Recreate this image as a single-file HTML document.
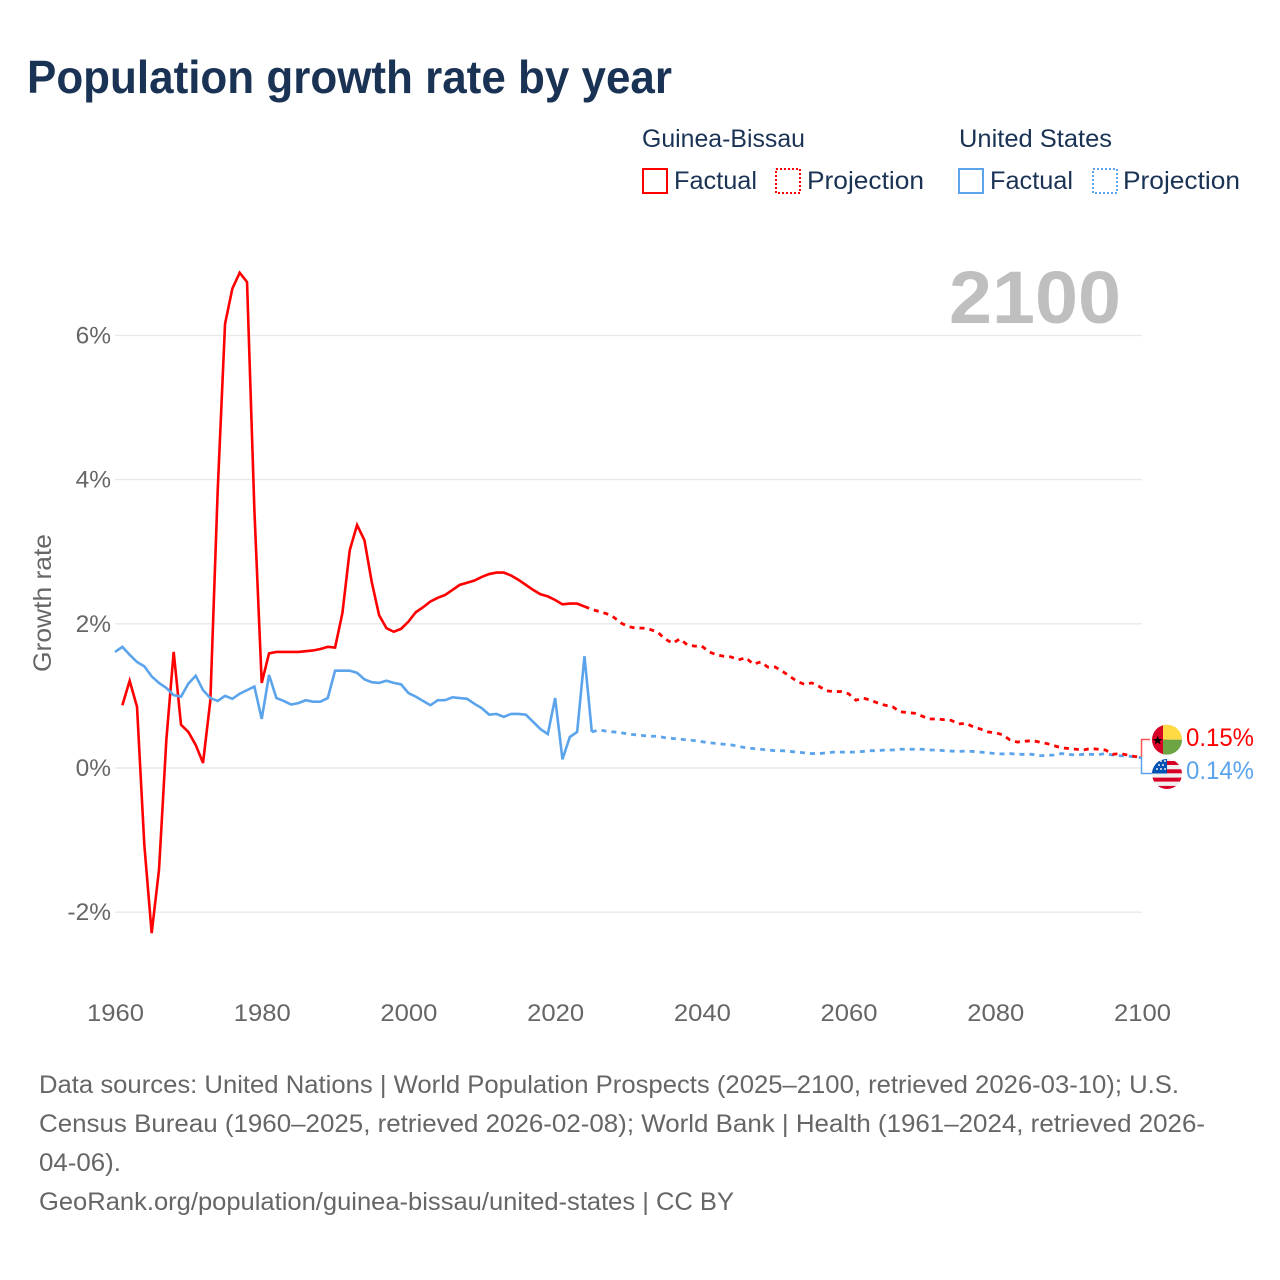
<!DOCTYPE html>
<html lang="en">
<head>
<meta charset="utf-8">
<title>Population growth rate by year</title>
<style>
html,body{margin:0;padding:0;background:#fff;}
svg{display:block;font-family:"Liberation Sans",sans-serif;}
.legend-text{font-size:25px;fill:#1a3355;}
.footer-text{font-size:25px;fill:#666;}
.tick{font-size:24.5px;fill:#666;}
</style>
</head>
<body>
<svg id="chart" xmlns="http://www.w3.org/2000/svg" width="1280" height="1280" viewBox="0 0 1280 1280">
  <rect x="0" y="0" width="1280" height="1280" fill="#fff"/>
  <text x="27" y="93" font-size="46" font-weight="700" fill="#1a3355" textLength="645" lengthAdjust="spacingAndGlyphs">Population growth rate by year</text>

  <g>
    <text class="legend-text" x="642" y="147" textLength="163" lengthAdjust="spacingAndGlyphs">Guinea-Bissau</text>
    <text class="legend-text" x="959" y="147" textLength="153" lengthAdjust="spacingAndGlyphs">United States</text>
    <rect x="643" y="169" width="24" height="24" fill="none" stroke="#ff0000" stroke-width="2"/>
    <text class="legend-text" x="674" y="189" textLength="83" lengthAdjust="spacingAndGlyphs">Factual</text>
    <rect x="776" y="169" width="24" height="24" fill="none" stroke="#ff0000" stroke-width="2" stroke-dasharray="2 2"/>
    <text class="legend-text" x="807" y="189" textLength="117" lengthAdjust="spacingAndGlyphs">Projection</text>
    <rect x="959" y="169" width="24" height="24" fill="none" stroke="#5ba4ec" stroke-width="2"/>
    <text class="legend-text" x="990" y="189" textLength="83" lengthAdjust="spacingAndGlyphs">Factual</text>
    <rect x="1093" y="169" width="24" height="24" fill="none" stroke="#5ba4ec" stroke-width="2" stroke-dasharray="2 2"/>
    <text class="legend-text" x="1123" y="189" textLength="117" lengthAdjust="spacingAndGlyphs">Projection</text>
  </g>

  <g id="grid"></g>
  <text x="1121" y="323" text-anchor="end" font-size="74" font-weight="700" fill="#bfbfbf" textLength="172" lengthAdjust="spacingAndGlyphs">2100</text>
  <g id="yticks"></g>
  <g id="xticks"></g>
  <text transform="translate(51,603) rotate(-90)" text-anchor="middle" font-size="25" fill="#666" textLength="138" lengthAdjust="spacingAndGlyphs">Growth rate</text>
  <g id="series"></g>

  <path d="M1141.5 757 V739.5 H1150" fill="none" stroke="#ff5555" stroke-width="1.5"/>
  <path d="M1141.5 757 V773.5 H1152" fill="none" stroke="#5ba4ec" stroke-width="1.5"/>

  <defs>
    <clipPath id="clipGW"><circle cx="1167" cy="739.7" r="15"/></clipPath>
    <clipPath id="clipUS"><circle cx="1167" cy="774" r="15"/></clipPath>
  </defs>
  <g clip-path="url(#clipGW)">
    <rect x="1152" y="724.7" width="15" height="30" fill="#d80027"/>
    <rect x="1163" y="724.7" width="19" height="15" fill="#ffda44"/>
    <rect x="1163" y="739.7" width="19" height="15" fill="#6da544"/>
    <polygon points="1157.7,735.7 1158.9,739 1162.4,739 1159.6,741.1 1160.6,744.4 1157.7,742.4 1154.8,744.4 1155.8,741.1 1153,739 1156.5,739" fill="#000"/>
  </g>
  <g clip-path="url(#clipUS)">
    <rect x="1152" y="759" width="30" height="30" fill="#f0f0f0"/>
    <rect x="1152" y="761" width="30" height="4" fill="#d80027"/>
    <rect x="1152" y="769.3" width="30" height="4" fill="#d80027"/>
    <rect x="1152" y="777.6" width="30" height="4" fill="#d80027"/>
    <rect x="1152" y="785.9" width="30" height="4" fill="#d80027"/>
    <rect x="1152" y="759" width="15" height="14.5" fill="#0052b4"/>
    <g fill="#f0f0f0">
      <circle cx="1157" cy="769" r="1"/><circle cx="1161" cy="769" r="1"/><circle cx="1165" cy="769" r="1"/>
      <circle cx="1159" cy="765" r="1"/><circle cx="1163" cy="765" r="1"/><circle cx="1161" cy="761" r="1"/><circle cx="1165" cy="761" r="1"/>
    </g>
  </g>
  <text x="1186" y="746" font-size="25" fill="#ff0000" textLength="68" lengthAdjust="spacingAndGlyphs">0.15%</text>
  <text x="1186" y="779" font-size="25" fill="#5ba4ec" textLength="68" lengthAdjust="spacingAndGlyphs">0.14%</text>

  <g>
    <text class="footer-text" x="39" y="1093" textLength="1140" lengthAdjust="spacingAndGlyphs">Data sources: United Nations | World Population Prospects (2025–2100, retrieved 2026-03-10); U.S.</text>
    <text class="footer-text" x="39" y="1132" textLength="1166" lengthAdjust="spacingAndGlyphs">Census Bureau (1960–2025, retrieved 2026-02-08); World Bank | Health (1961–2024, retrieved 2026-</text>
    <text class="footer-text" x="39" y="1171" textLength="82" lengthAdjust="spacingAndGlyphs">04-06).</text>
    <text class="footer-text" x="39" y="1210" textLength="695" lengthAdjust="spacingAndGlyphs">GeoRank.org/population/guinea-bissau/united-states | CC BY</text>
  </g>
</svg>
<script>
const yTickValues = [-2, 0, 2, 4, 6];
const xTickYears = [1960, 1980, 2000, 2020, 2040, 2060, 2080, 2100];

const gwFactualStart = 1961;
const gwFactual = [0.87,1.21,0.85,-1.07,-2.29,-1.41,0.39,1.61,0.60,0.50,0.32,0.07,0.94,3.85,6.16,6.65,6.87,6.74,3.58,1.18,1.59,1.61,1.61,1.61,1.61,1.62,1.63,1.65,1.68,1.67,2.15,3.02,3.37,3.16,2.58,2.12,1.94,1.89,1.93,2.03,2.16,2.23,2.31,2.36,2.40,2.47,2.54,2.57,2.60,2.65,2.69,2.71,2.71,2.67,2.61,2.54,2.47,2.41,2.38,2.33,2.27,2.28,2.28,2.24];

const gwProjectionStart = 2025;
const gwProjection = [2.20,2.17,2.14,2.09,2.01,1.96,1.94,1.94,1.92,1.88,1.79,1.73,1.79,1.71,1.69,1.69,1.61,1.57,1.55,1.54,1.50,1.53,1.44,1.47,1.40,1.40,1.34,1.27,1.20,1.16,1.18,1.13,1.07,1.06,1.06,1.03,0.94,0.97,0.94,0.90,0.87,0.85,0.78,0.77,0.76,0.72,0.68,0.68,0.67,0.66,0.61,0.62,0.57,0.54,0.50,0.49,0.46,0.39,0.36,0.37,0.38,0.36,0.34,0.31,0.28,0.27,0.26,0.25,0.27,0.26,0.25,0.19,0.20,0.18,0.16,0.15];

const usFactualStart = 1960;
const usFactual = [1.61,1.68,1.57,1.47,1.41,1.27,1.18,1.11,1.01,0.99,1.17,1.28,1.08,0.97,0.93,1.00,0.96,1.03,1.08,1.13,0.68,1.29,0.97,0.93,0.88,0.90,0.94,0.92,0.92,0.97,1.35,1.35,1.35,1.32,1.23,1.19,1.18,1.21,1.18,1.16,1.04,0.99,0.93,0.87,0.94,0.94,0.98,0.97,0.96,0.89,0.83,0.74,0.75,0.71,0.75,0.75,0.74,0.64,0.54,0.47,0.97,0.12,0.43,0.50,1.55,0.50];

const usProjectionStart = 2026;
const usProjection = [0.53,0.51,0.50,0.49,0.47,0.46,0.45,0.44,0.44,0.42,0.41,0.40,0.39,0.38,0.365,0.35,0.34,0.33,0.32,0.30,0.28,0.27,0.26,0.25,0.24,0.24,0.23,0.22,0.21,0.20,0.20,0.21,0.22,0.22,0.22,0.22,0.23,0.24,0.24,0.25,0.25,0.26,0.26,0.26,0.26,0.25,0.25,0.24,0.235,0.23,0.235,0.23,0.22,0.21,0.20,0.195,0.20,0.19,0.19,0.19,0.17,0.175,0.18,0.20,0.19,0.18,0.19,0.19,0.185,0.20,0.18,0.17,0.165,0.155,0.14];

const NS = 'http://www.w3.org/2000/svg';
function xScale(year) { return 115 + (year - 1960) * (1142 - 115) / 140; }
function yScale(value) { return 768 - value * 72.1; }

function points(startYear, values) {
  return values.map(function (v, i) { return xScale(startYear + i).toFixed(2) + ',' + yScale(v).toFixed(2); });
}

const gridGroup = document.getElementById('grid');
const yGroup = document.getElementById('yticks');
yTickValues.forEach(function (v) {
  const line = document.createElementNS(NS, 'line');
  
  
  line.setAttribute('x1', xScale(1960));
  line.setAttribute('x2', xScale(2100));
  line.setAttribute('y1', yScale(v));
  line.setAttribute('y2', yScale(v));
  line.setAttribute('stroke', '#e9e9e9');
  line.setAttribute('stroke-width', '1.4');
  gridGroup.appendChild(line);
  const label = document.createElementNS(NS, 'text');
  
  
  label.setAttribute('class', 'tick');
  label.setAttribute('x', 111);
  label.setAttribute('y', yScale(v) + 8);
  label.setAttribute('text-anchor', 'end');
  label.textContent = v + '%';
  yGroup.appendChild(label);
});

const xGroup = document.getElementById('xticks');
xTickYears.forEach(function (yr) {
  const label = document.createElementNS(NS, 'text');
  
  
  label.setAttribute('class', 'tick');
  label.setAttribute('x', xScale(yr) + 0.5);
  label.setAttribute('y', 1021);
  label.setAttribute('text-anchor', 'middle');
  label.setAttribute('textLength', '57');
  label.setAttribute('lengthAdjust', 'spacingAndGlyphs');
  label.textContent = yr;
  xGroup.appendChild(label);
});

const seriesGroup = document.getElementById('series');

const usProjPath = document.createElementNS(NS, 'polyline');


usProjPath.setAttribute('points', points(usFactualStart + usFactual.length - 1, usFactual.slice(-1).concat(usProjection)).join(' '));
usProjPath.setAttribute('fill', 'none');
usProjPath.setAttribute('stroke', '#5ba4ec');
usProjPath.setAttribute('stroke-width', '2.8');
usProjPath.setAttribute('stroke-dasharray', '5 5');
seriesGroup.appendChild(usProjPath);

const gwProjPath = document.createElementNS(NS, 'polyline');


gwProjPath.setAttribute('points', points(gwFactualStart + gwFactual.length - 1, gwFactual.slice(-1).concat(gwProjection)).join(' '));
gwProjPath.setAttribute('fill', 'none');
gwProjPath.setAttribute('stroke', '#ff0000');
gwProjPath.setAttribute('stroke-width', '2.8');
gwProjPath.setAttribute('stroke-dasharray', '5 5');
seriesGroup.appendChild(gwProjPath);

const gwPath = document.createElementNS(NS, 'polyline');


gwPath.setAttribute('points', points(gwFactualStart, gwFactual).join(' '));
gwPath.setAttribute('fill', 'none');
gwPath.setAttribute('stroke', '#ff0000');
gwPath.setAttribute('stroke-width', '2.6');
seriesGroup.appendChild(gwPath);

const usPath = document.createElementNS(NS, 'polyline');


usPath.setAttribute('points', points(usFactualStart, usFactual).join(' '));
usPath.setAttribute('fill', 'none');
usPath.setAttribute('stroke', '#5ba4ec');
usPath.setAttribute('stroke-width', '2.6');
seriesGroup.appendChild(usPath);
</script>
</body>
</html>
